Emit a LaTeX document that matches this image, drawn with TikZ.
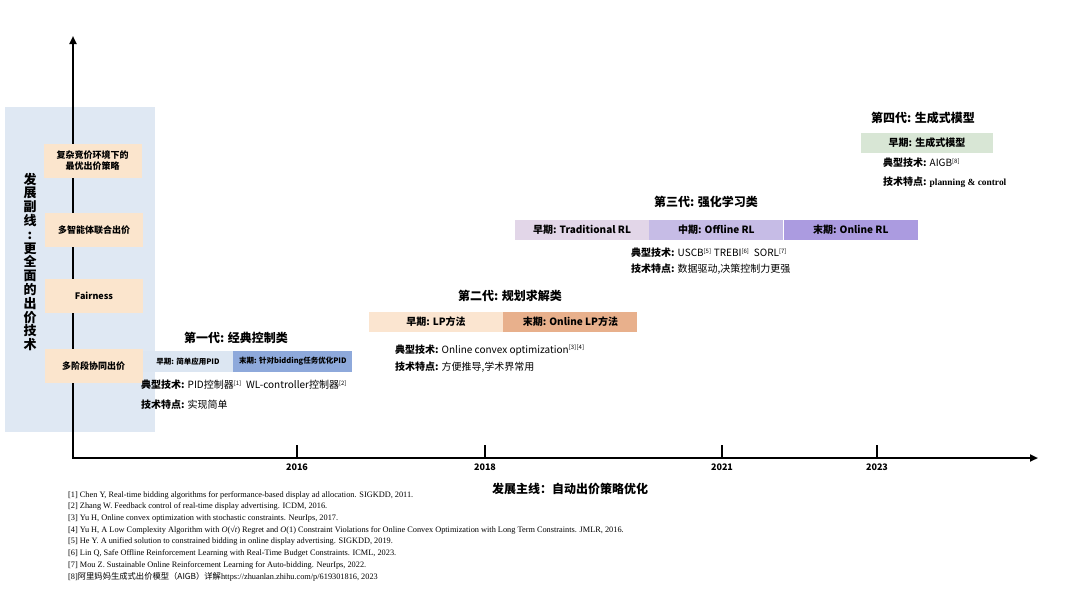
\documentclass[tikz,border=0pt]{standalone}
\usepackage{fontspec}
\setmainfont{Noto Sans CJK SC}
\newfontfamily\cjk{Noto Sans CJK SC}
\newfontfamily\refserif{Liberation Serif}
\usetikzlibrary{arrows.meta,positioning}
\definecolor{cPanel}{HTML}{DFE8F3}
\definecolor{cSide}{HTML}{FBE5CD}
\definecolor{cGa}{HTML}{DCE6F2}
\definecolor{cGb}{HTML}{8EA9DB}
\definecolor{cLpa}{HTML}{FBE5D0}
\definecolor{cLpb}{HTML}{E8B08C}
\definecolor{cRla}{HTML}{E2D6E8}
\definecolor{cRlb}{HTML}{C6BCE6}
\definecolor{cRlc}{HTML}{AB9BE0}
\definecolor{cGen}{HTML}{D8E6D5}
\tikzset{
  panel/.style={fill=cPanel, draw=none},
  axis/.style={line width=2pt, -{Triangle[length=8pt,width=7pt]}},
  tickmark/.style={line width=1.5pt},
  year/.style={font=\fontsize{9}{10}\selectfont\bfseries, inner sep=0pt},
  sidebox/.style={fill=cSide, minimum width=98pt, minimum height=34pt, align=center,
    inner sep=2pt, font=\fontsize{9}{11}\selectfont\bfseries},
  bar/.style={minimum width=134pt, minimum height=20pt, inner sep=0pt,
    font=\fontsize{10}{12}\selectfont\bfseries},
  smallbar/.style={bar, minimum height=21pt, font=\fontsize{7.5}{9}\selectfont\bfseries},
  gen/.style={font=\fontsize{12}{14}\selectfont\bfseries, inner sep=0pt},
  info/.style={anchor=west, inner sep=0pt, font=\fontsize{10}{12}\selectfont},
  ref/.style={anchor=west, inner sep=0pt, text height=6pt, text depth=1.8pt,
    font=\refserif\fontsize{8.3}{9}\selectfont},
}
\newcommand{\refmark}[1]{\textsuperscript{\fontsize{6}{6}\selectfont[#1]}}

\begin{document}
\begin{tikzpicture}[x=1pt,y=-1pt]
  \useasboundingbox (0,0) rectangle (1080,592);
  % side track panel
  \fill[panel] (5,107) rectangle (155,432);
  \node[font=\fontsize{13}{13.8}\selectfont\bfseries, align=center, inner sep=0pt] (sidetitle) at (30,262)
    {发\\展\\副\\线\\:\\更\\全\\面\\的\\出\\价\\技\\术};
  % axes
  \coordinate (origin) at (73,458);
  \coordinate (ytop) at (73,36);
  \coordinate (xend) at (1038,458);
  \draw[axis] (origin) -- (ytop);
  \draw[axis] ([xshift=-1pt]origin) -- (xend);
  \foreach \x/\yr in {297/2016, 485/2018, 722/2021, 877/2023} {
    \coordinate (t\yr) at (\x,458);
    \coordinate (tt\yr) at (\x,445);
    \draw[tickmark] (t\yr) -- (tt\yr);
    \node[year] (y\yr) at (\x,467) {\yr};
  }
  \node[gen] (mainline) at (570,489) {发展主线：自动出价策略优化};
  % side track boxes
  \node[sidebox] (side1) at (92.5,160.5) {复杂竞价环境下的\\最优出价策略};
  \node[sidebox] (side2) at (94,230) {多智能体联合出价};
  \node[sidebox] (side3) at (94,296) {Fairness};
  \node[sidebox] (side4) at (93.5,366) {多阶段协同出价};

  % generation 1
  \node[gen] (g1) at (236,338) {第一代: 经典控制类};
  \node[smallbar, fill=cGa, minimum width=90pt] (g1early) at (188,361.5) {早期: 简单应用PID};
  \node[smallbar, fill=cGb, minimum width=119pt, right=0pt of g1early] (g1late) {末期: 针对bidding任务优化PID};
  \node[info] (g1tech) at (141,385) {\textbf{典型技术:} PID控制器\refmark{1}\ \ WL-controller控制器\refmark{2}};
  \node[info] (g1feat) at (141,405) {\textbf{技术特点:} 实现简单};

  % generation 2
  \node[gen] (g2) at (510,296) {第二代: 规划求解类};
  \node[bar, fill=cLpa] (g2early) at (436,322) {早期: LP方法};
  \node[bar, fill=cLpb, right=0pt of g2early] (g2late) {末期: Online LP方法};
  \node[info] (g2tech) at (395,350) {\textbf{典型技术:} Online convex optimization\refmark{3}\refmark{4}};
  \node[info] (g2feat) at (395,367) {\textbf{技术特点:} 方便推导,学术界常用};

  % generation 3
  \node[gen] (g3) at (706,202) {第三代: 强化学习类};
  \node[bar, fill=cRla] (g3early) at (582,230) {早期: Traditional RL};
  \node[bar, fill=cRlb, right=0pt of g3early] (g3mid) {中期: Offline RL};
  \node[bar, fill=cRlc, right=0pt of g3mid] (g3late) {末期: Online RL};
  \node[info] (g3tech) at (631,253) {\textbf{典型技术:} USCB\refmark{5} TREBI\refmark{6}\ \ SORL\refmark{7}};
  \node[info] (g3feat) at (631,269) {\textbf{技术特点:} 数据驱动,决策控制力更强};

  % generation 4
  \node[gen] (g4) at (923,118) {第四代: 生成式模型};
  \node[bar, fill=cGen, minimum width=132pt] (g4early) at (927,143) {早期: 生成式模型};
  \node[info] (g4tech) at (883,163) {\textbf{典型技术:} AIGB\refmark{8}};
  \node[info] (g4feat) at (883,182) {\textbf{技术特点:} {\refserif\bfseries\fontsize{9.4}{11}\selectfont planning \& control}};

  % references
  \node[ref] (r1) at (68,495) {[1] Chen Y, Real-time bidding algorithms for performance-based display ad allocation. SIGKDD, 2011.};
  \node[ref] (r2) at (68,506.7) {[2] Zhang W. Feedback control of real-time display advertising. ICDM, 2016.};
  \node[ref] (r3) at (68,518.4) {[3] Yu H, Online convex optimization with stochastic constraints. NeurIps, 2017.};
  \node[ref] (r4) at (68,530.1) {[4] Yu H, A Low Complexity Algorithm with \textit{O}(√\textit{t}) Regret and \textit{O}(1) Constraint Violations for Online Convex Optimization with Long Term Constraints. JMLR, 2016.};
  \node[ref] (r5) at (68,541.8) {[5] He Y. A unified solution to constrained bidding in online display advertising. SIGKDD, 2019.};
  \node[ref] (r6) at (68,553.5) {[6] Lin Q, Safe Offline Reinforcement Learning with Real-Time Budget Constraints. ICML, 2023.};
  \node[ref] (r7) at (68,565.2) {[7] Mou Z. Sustainable Online Reinforcement Learning for Auto-bidding. NeurIps, 2022.};
  \node[ref] (r8) at (68,576.9) {[8]{\cjk 阿里妈妈生成式出价模型（AIGB）详解}https://zhuanlan.zhihu.com/p/619301816, 2023};
\end{tikzpicture}
\end{document}
